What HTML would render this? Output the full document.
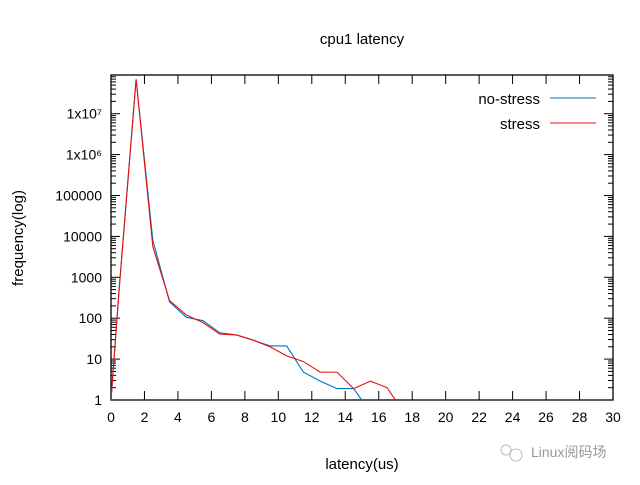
<!DOCTYPE html>
<html><head><meta charset="utf-8"><style>
body{margin:0;background:#fff;width:640px;height:480px;overflow:hidden}
svg text{font-family:"Liberation Sans","Noto Sans CJK SC",sans-serif;fill:#000}
</style></head><body>
<svg id="chart" width="640" height="480">
<text x="362" y="44" font-size="15" text-anchor="middle">cpu1 latency</text>
<text x="362" y="469" font-size="15" text-anchor="middle">latency(us)</text>
<text transform="translate(23,238) rotate(-90)" font-size="15" text-anchor="middle">frequency(log)</text>
<g id="axes"></g>
<g id="series"></g>
<g>
<text x="540" y="104" font-size="15" text-anchor="end">no-stress</text>
<line x1="550" y1="98" x2="596" y2="98" stroke="#0072bd"/>
<text x="540" y="129" font-size="15" text-anchor="end">stress</text>
<line x1="550" y1="123" x2="596" y2="123" stroke="#e8100c"/>
</g>
<g>
<circle cx="506" cy="450" r="5" fill="none" stroke="#bbb"/>
<circle cx="516" cy="455" r="6" fill="none" stroke="#bbb"/>
<text x="531" y="457" font-size="14" style="fill:#999">Linux阅码场</text>
</g>
</svg>
<script>
const xs=[0,0.5,1.5,2.5,3.5,4.5,5.5,6.5,7.5,8.5,9.5,10.5,11.5,12.5,13.5,14.5,15.5,16.5,17.5];
const noStress=[1,600,69000000,8000,250,105,87,44,39,29,21,21,4.8,2.9,1.9,1.9,0.5,0.5,0.5];
const stress=[1,600,69000000,5600,270,120,78,41,39,29,20,12,8.7,4.8,4.8,1.9,2.9,2.0,0.5];
const xTicks=[0,2,4,6,8,10,12,14,16,18,20,22,24,26,28,30];
const yTicks=[1,10,100,1000,10000,100000,1000000,10000000];
const yLabels=["1","10","100","1000","10000","100000","1x10\u2076","1x10\u2077"];
const L=111,R=613,T=75,B=400,DEC=40.9;
const X=v=>L+(v/30)*(R-L);
const Y=v=>B-Math.log10(v)*DEC;
const NS="http://www.w3.org/2000/svg";
const axes=document.getElementById('axes'),ser=document.getElementById('series');
function mk(t,a,p){const e=document.createElementNS(NS,t);for(const k in a)e.setAttribute(k,a[k]);p.appendChild(e);return e;}
const fr=mk('rect',{x:L,y:T,width:R-L,height:B-T,fill:'none',stroke:'#000','stroke-width':1.3},axes);


xTicks.forEach(t=>{
 const x=X(t);
 mk('line',{x1:x,y1:B,x2:x,y2:B-9,stroke:'#000'},axes);
 mk('line',{x1:x,y1:T,x2:x,y2:T+9,stroke:'#000'},axes);
 const tx=mk('text',{x:x,y:B+22,'font-size':14,'text-anchor':'middle'},axes);
 tx.textContent=t;
 
 
});
for(let d=0;d<8;d++){
 for(let m=1;m<10;m++){
  const v=m*Math.pow(10,d);const y=Y(v);if(y<T)break;
  const len=m==1?9:5;
  mk('line',{x1:L,y1:y,x2:L+len,y2:y,stroke:'#000'},axes);
  mk('line',{x1:R,y1:y,x2:R-len,y2:y,stroke:'#000'},axes);
 }
}
yTicks.forEach((t,i)=>{
 const tx=mk('text',{x:102,y:Y(t)+5,'font-size':14,'text-anchor':'end'},axes);
 tx.textContent=yLabels[i];
 
 
});
mk('clipPath',{id:'clip'},ser).appendChild(Object.assign(document.createElementNS(NS,'rect'),{}));
ser.querySelector('clipPath rect').setAttribute('x',L);ser.querySelector('clipPath rect').setAttribute('y',T);
ser.querySelector('clipPath rect').setAttribute('width',R-L);ser.querySelector('clipPath rect').setAttribute('height',B-T);
function line(vals,col,name){
 const p=mk('polyline',{points:vals.map((v,i)=>X(xs[i])+','+Y(v)).join(' '),fill:'none',stroke:col,'stroke-width':1.1,'clip-path':'url(#clip)'},ser);
 
 
}
line(noStress,'#0072bd','no-stress-line');
line(stress,'#e8100c','stress-line');
</script>
</body></html>
